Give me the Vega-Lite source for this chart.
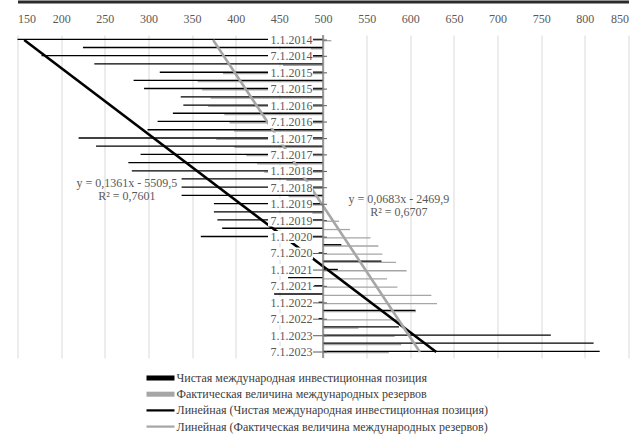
{
  "$schema": "https://vega.github.io/schema/vega-lite/v6.json",
  "width": 611,
  "height": 323,
  "autosize": {"type": "none"},
  "padding": {"left": 17.5, "top": 35, "right": 9.5, "bottom": 78},
  "background": "white",
  "config": {
    "view": {"stroke": null},
    "font": "Liberation Serif",
    "axisX": {"domain": true, "domainColor": "#2b2b2b", "domainWidth": 3}
  },
  "datasets": {
    "pos": [
      {"d": "2014-01-01", "niip": 150, "res": 509.6},
      {"d": "2014-04-01", "niip": 225, "res": 486.1},
      {"d": "2014-07-01", "niip": 177.5, "res": 478.3},
      {"d": "2014-10-01", "niip": 238, "res": 454.2},
      {"d": "2015-01-01", "niip": 313, "res": 385.5},
      {"d": "2015-04-01", "niip": 283, "res": 356.4},
      {"d": "2015-07-01", "niip": 295, "res": 361.6},
      {"d": "2015-10-01", "niip": 337, "res": 371.3},
      {"d": "2016-01-01", "niip": 340, "res": 368.4},
      {"d": "2016-04-01", "niip": 328, "res": 387.0},
      {"d": "2016-07-01", "niip": 310.5, "res": 393.0},
      {"d": "2016-10-01", "niip": 299, "res": 398.1},
      {"d": "2017-01-01", "niip": 220, "res": 377.7},
      {"d": "2017-04-01", "niip": 240, "res": 398.4},
      {"d": "2017-07-01", "niip": 291, "res": 412.2},
      {"d": "2017-10-01", "niip": 277, "res": 424.6},
      {"d": "2018-01-01", "niip": 281, "res": 432.7},
      {"d": "2018-04-01", "niip": 338, "res": 458.1},
      {"d": "2018-07-01", "niip": 338, "res": 458.1},
      {"d": "2018-10-01", "niip": 338, "res": 460.6},
      {"d": "2019-01-01", "niip": 375, "res": 468.5},
      {"d": "2019-04-01", "niip": 375, "res": 487.8},
      {"d": "2019-07-01", "niip": 379, "res": 518.4},
      {"d": "2019-10-01", "niip": 384.5, "res": 530.9},
      {"d": "2020-01-01", "niip": 360, "res": 554.4},
      {"d": "2020-04-01", "niip": 521, "res": 563.5},
      {"d": "2020-07-01", "niip": 495, "res": 568.0},
      {"d": "2020-10-01", "niip": 567, "res": 583.6},
      {"d": "2021-01-01", "niip": 517, "res": 595.8},
      {"d": "2021-04-01", "niip": 460, "res": 573.3},
      {"d": "2021-07-01", "niip": 490, "res": 585.3},
      {"d": "2021-10-01", "niip": 444, "res": 624.2},
      {"d": "2022-01-01", "niip": 495, "res": 630.6},
      {"d": "2022-04-01", "niip": 606, "res": 606.5},
      {"d": "2022-07-01", "niip": 495, "res": 585.6},
      {"d": "2022-10-01", "niip": 587, "res": 540.6},
      {"d": "2023-01-01", "niip": 761, "res": 582.0},
      {"d": "2023-04-01", "niip": 810, "res": 589.6},
      {"d": "2023-07-01", "niip": 817, "res": 575.4}
    ],
    "trend": [
      {"d": "2014-01-01", "s": "tniip", "v": 157.7},
      {"d": "2023-07-01", "s": "tniip", "v": 629.7},
      {"d": "2014-01-01", "s": "tres", "v": 374.1},
      {"d": "2023-07-01", "s": "tres", "v": 611.0}
    ]
  },
  "encoding": {
    "y": {
      "field": "d",
      "type": "temporal",
      "scale": {
        "type": "utc",
        "reverse": true,
        "domain": [
          {"year": 2014, "month": 1, "date": 1, "utc": true},
          {"year": 2023, "month": 7, "date": 12, "utc": true}
        ]
      },
      "axis": null
    }
  },
  "layer": [
    {
      "data": {"name": "pos", "format": {"parse": {"d": "date"}}},
      "mark": {"type": "bar", "orient": "horizontal", "size": 1.3, "yOffset": 0.7},
      "encoding": {
        "x": {
          "field": "res",
          "type": "quantitative",
          "scale": {"domain": [150, 850], "nice": false, "zero": false},
          "axis": {
            "orient": "top",
            "offset": 33.5,
            "values": [150, 200, 250, 300, 350, 400, 450, 500, 550, 600, 650, 700, 750, 800, 850],
            "title": null,
            "grid": true,
            "gridColor": "#d9d9d9",
            "gridWidth": 1,
            "domain": true,
            "domainColor": "#2b2b2b",
            "domainWidth": 3,
            "tickSize": 0,
            "labelPadding": -23.5,
            "labelFont": "Liberation Serif",
            "labelFontSize": 12,
            "labelColor": "#595959"
          }
        },
        "x2": {"datum": 500},
        "color": {
          "datum": "res",
          "type": "nominal",
          "title": null,
          "scale": {
            "domain": ["niip", "res", "tniip", "tres"],
            "range": ["#000000", "#a6a6a6", "#000000", "#a6a6a6"]
          },
          "legend": {
            "orient": "none",
            "legendX": 136,
            "legendY": 336,
            "direction": "vertical",
            "title": null,
            "labelFont": "Liberation Serif",
            "labelFontSize": 12,
            "labelColor": "#404040",
            "labelLimit": 0,
            "symbolSize": 196,
            "labelOffset": 9,
            "rowPadding": 3.2,
            "labelExpr": "datum.value == 'niip' ? 'Чистая международная  инвестиционная позиция' : datum.value == 'res' ? 'Фактическая величина международных  резервов' : datum.value == 'tniip' ? 'Линейная (Чистая  международная  инвестиционная позиция)' : 'Линейная (Фактическая  величина международных  резервов)'",
            "encode": {
              "symbols": {
                "update": {
                  "shape": {"signal": "datum.value == 'niip' || datum.value == 'res' ? 'M-2,-0.36H2V0.36H-2Z' : 'M-2,-0.16H2V0.16H-2Z'"},
                  "fill": {"scale": "color", "field": "value"},
                  "stroke": {"value": "transparent"},
                  "strokeWidth": {"value": 0}
                }
              }
            }
          }
        }
      }
    },
    {
      "data": {"name": "pos", "format": {"parse": {"d": "date"}}},
      "mark": {"type": "bar", "orient": "horizontal", "size": 1.3, "yOffset": -0.6},
      "encoding": {
        "x": {"field": "niip", "type": "quantitative"},
        "x2": {"datum": 500},
        "color": {"datum": "niip", "type": "nominal", "title": null}
      }
    },
    {
      "data": {"name": "trend", "format": {"parse": {"d": "date"}}},
      "mark": {"type": "line", "strokeWidth": 2.6},
      "encoding": {
        "x": {"field": "v", "type": "quantitative"},
        "color": {"field": "s", "type": "nominal", "title": null}
      }
    },
    {
      "data": {"name": "pos", "format": {"parse": {"d": "date"}}},
      "transform": [{"filter": "utcmonth(datum.d) % 6 == 0"}],
      "layer": [
        {
          "mark": {"type": "bar", "orient": "horizontal", "size": 12, "color": "white"},
          "encoding": {"x": {"datum": 437}, "x2": {"datum": 488.5}}
        },
        {
          "mark": {"type": "rule", "color": "#595959", "strokeWidth": 1},
          "encoding": {"x": {"datum": 488.5}, "x2": {"datum": 504.6}}
        },
        {
          "mark": {"type": "text", "align": "right", "baseline": "middle", "dx": -10.5, "fontSize": 12, "color": "#595959"},
          "encoding": {
            "x": {"datum": 500},
            "text": {"field": "d", "type": "temporal", "timeUnit": "utcyearmonthdate", "format": "%-m.%-d.%Y"}
          }
        }
      ]
    },
    {
      "data": {"values": [{}]},
      "mark": {"type": "rule", "color": "#7f7f7f", "strokeWidth": 1.5},
      "encoding": {"x": {"datum": 500}, "y": null}
    },
    {
      "data": {"name": "pos", "format": {"parse": {"d": "date"}}},
      "transform": [{"filter": "utcyear(datum.d) == 2018 && utcmonth(datum.d) == 6"}],
      "mark": {"type": "text", "align": "center", "baseline": "middle", "dy": -5, "fontSize": 12, "lineHeight": 13.5, "color": "#595959", "text": ["y = 0,1361x  - 5509,5", "R² = 0,7601"]},
      "encoding": {"x": {"datum": 275.3}}
    },
    {
      "data": {"name": "pos", "format": {"parse": {"d": "date"}}},
      "transform": [{"filter": "utcyear(datum.d) == 2019 && utcmonth(datum.d) == 0"}],
      "mark": {"type": "text", "align": "center", "baseline": "middle", "dy": -5.5, "fontSize": 12, "lineHeight": 13.5, "color": "#595959", "text": ["y = 0,0683x  - 2469,9", "R² = 0,6707"]},
      "encoding": {"x": {"datum": 587}}
    }
  ]
}
